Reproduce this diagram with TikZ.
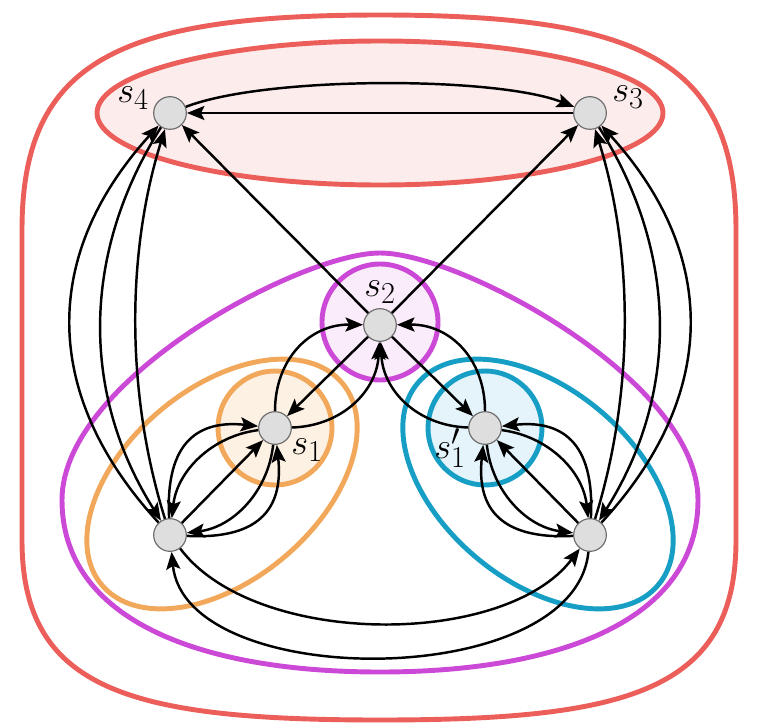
\documentclass[tikz,border=0pt]{standalone}
\usetikzlibrary{arrows.meta}
\definecolor{redc}{RGB}{236,94,90}
\definecolor{redfill}{RGB}{252,236,236}
\definecolor{magc}{RGB}{204,72,214}
\definecolor{magfill}{RGB}{250,236,250}
\definecolor{orac}{RGB}{242,168,90}
\definecolor{orafill}{RGB}{253,241,228}
\definecolor{cyac}{RGB}{22,158,196}
\definecolor{cyafill}{RGB}{228,244,250}
\definecolor{nodefill}{RGB}{222,222,222}
\definecolor{nodedraw}{RGB}{110,110,110}
\begin{document}
\begin{tikzpicture}[x=0.03cm,y=-0.03cm,
  ring/.style={line width=4.2pt},
  vtx/.style={circle,fill=nodefill,draw=nodedraw,line width=1pt,minimum size=0.98cm,inner sep=0pt},
  arr/.style={line width=2.1pt,-{Stealth[length=15pt,width=12pt,inset=3pt]}},
  lab/.style={font=\Huge,scale=1.25,inner sep=0pt}]
\useasboundingbox (0,0) rectangle (757,727);
% outer red
\draw[ring,redc] (380,15) .. controls (120,15) and (22,60) .. (22,230) -- (22,540)
  .. controls (22,690) and (130,720) .. (380,720) .. controls (630,720) and (736,690) .. (736,540)
  -- (736,230) .. controls (736,60) and (640,15) .. (380,15) -- cycle;
% red ellipse
\draw[ring,redc,fill=redfill] (380,113) ellipse [x radius=283, y radius=72];
% big magenta
\draw[ring,magc] (380,253) .. controls (300,253) and (62,380) .. (62,500)
  .. controls (62,620) and (200,672) .. (380,672) .. controls (560,672) and (698,620) .. (698,500)
  .. controls (698,380) and (460,253) .. (380,253) -- cycle;
% orange and cyan ellipses
\draw[ring,orac,shift={(222,484)},rotate=40] (0,0) ellipse [x radius=157, y radius=96];
\draw[ring,cyac,shift={(538,484)},rotate=-40] (0,0) ellipse [x radius=157, y radius=96];
\draw[ring,orac,fill=orafill] (275,428) circle [radius=57];
\draw[ring,cyac,fill=cyafill] (485,428) circle [radius=57];
\draw[ring,magc,fill=magfill] (380,322) circle [radius=58];
% nodes
\node[vtx] (s4) at (170,113) {};
\node[vtx] (s3) at (590,113) {};
\node[vtx] (s2) at (380,325) {};
\node[vtx] (s1) at (275,428) {};
\node[vtx] (s1p) at (485,428) {};
\node[vtx] (bl) at (170,535) {};
\node[vtx] (br) at (590,535) {};
% labels
\node[lab] (l4) at (133,98) {$s_4$};
\node[lab] (l3) at (628,97) {$s_3$};
\node[lab] (l2) at (380,292) {$s_2$};
\node[lab] (l1) at (307,450) {$s_1$};
\node[lab] (l1p) at (450,448) {$s_1'$};
% top
\draw[arr] (s3) -- (s4);
\draw[arr] (s4) .. controls (265,76) and (495,76) .. (s3);
\draw[arr] (s2) -- (s4);
\draw[arr] (s2) -- (s3);
% s4 - bl
\draw[arr] (bl) .. controls (41,395) and (41,255) .. (s4);
\draw[arr] (s4) .. controls (81,254) and (81,394) .. (bl);
\draw[arr] (bl) .. controls (126,394) and (126,254) .. (s4);
% s3 - br
\draw[arr] (br) .. controls (719,395) and (719,255) .. (s3);
\draw[arr] (s3) .. controls (679,254) and (679,394) .. (br);
\draw[arr] (br) .. controls (634,394) and (634,254) .. (s3);
% bl - s1
\draw[arr] (bl) .. controls (165,440) and (200,420) .. (s1);
\draw[arr] (s1) .. controls (212,436) and (177,471) .. (bl);
\draw[arr] (bl) -- (s1);
\draw[arr] (s1) .. controls (268,492) and (233,527) .. (bl);
\draw[arr] (bl) .. controls (265,540) and (283,503) .. (s1);
% br - s1p
\draw[arr] (br) .. controls (595,440) and (560,420) .. (s1p);
\draw[arr] (s1p) .. controls (548,436) and (583,471) .. (br);
\draw[arr] (br) -- (s1p);
\draw[arr] (s1p) .. controls (492,492) and (527,527) .. (br);
\draw[arr] (br) .. controls (495,540) and (477,503) .. (s1p);
% s1 - s2
\draw[arr] (s1) .. controls (275,359) and (310,324) .. (s2);
\draw[arr] (s2) -- (s1);
\draw[arr] (s1) .. controls (342,426) and (377,391) .. (s2);
% s1p - s2
\draw[arr] (s1p) .. controls (485,359) and (450,324) .. (s2);
\draw[arr] (s2) -- (s1p);
\draw[arr] (s1p) .. controls (418,426) and (383,391) .. (s2);
% bottom
\draw[arr] (bl) .. controls (255,648) and (505,648) .. (br);
\draw[arr] (br) .. controls (575,692) and (185,692) .. (bl);
\end{tikzpicture}
\end{document}
